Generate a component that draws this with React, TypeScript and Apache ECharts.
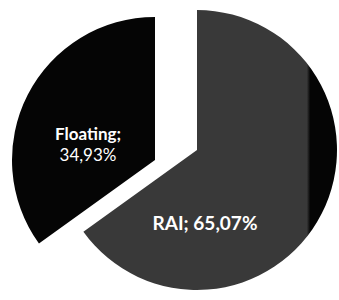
import React, { useEffect, useRef } from "react";
import * as echarts from "echarts";

const categories = ["RAI", "Floating"];
const shares = [65.07, 34.93];

const fmt = (v: number) => v.toFixed(2).replace(".", ",") + "%";

export default function App() {
  const ref = useRef<HTMLDivElement>(null);
  useEffect(() => {
    document.body.style.margin = "0";
    const chart = echarts.init(ref.current!, null, { renderer: "svg" });
    const raiFill = new echarts.graphic.LinearGradient(
      0, 0, 339, 0,
      [
        { offset: 0, color: "#393939" },
        { offset: 0.905, color: "#393939" },
        { offset: 0.915, color: "#050505" },
        { offset: 1, color: "#050505" },
      ],
      true
    );
    const makeData = (visible: number) =>
      categories.map((name, i) => {
        const shown = i === visible;
        return {
          name,
          value: shares[i],
          itemStyle: shown
            ? { color: i === 0 ? raiFill : "#050505" }
            : { color: "rgba(0,0,0,0)" },
          label: { show: shown },
        };
      });
    chart.setOption({
      animation: false,
      backgroundColor: "#ffffff",
      series: [
        {
          type: "pie",
          silent: true,
          center: [197, 150],
          radius: 140,
          startAngle: 90,
          clockwise: true,
          data: makeData(0),
          label: {
            position: "inside",
            color: "#ffffff",
            fontFamily: "Lato",
            fontWeight: "bold",
            fontSize: 19,
            formatter: (p: any) => p.name + "; " + fmt(p.value),
          },
          labelLayout: () => ({ x: 205, y: 222, align: "center", verticalAlign: "middle" }),
          labelLine: { show: false },
        },
        {
          type: "pie",
          silent: true,
          center: [155, 160],
          radius: 143,
          startAngle: 90,
          clockwise: true,
          data: makeData(1),
          label: {
            position: "inside",
            color: "#ffffff",
            fontFamily: "Lato",
            formatter: (p: any) => "{b|" + p.name + ";}\n{n|" + fmt(p.value) + "}",
            rich: {
              b: { fontFamily: "Lato", fontWeight: "bold", fontSize: 17, color: "#fff", lineHeight: 21, align: "center" },
              n: { fontFamily: "Lato", fontWeight: "normal", fontSize: 17, color: "#fff", lineHeight: 21, align: "center" },
            },
          },
          labelLayout: () => ({ x: 88, y: 144, align: "center", verticalAlign: "middle" }),
          labelLine: { show: false },
        },
      ],
    });
    return () => chart.dispose();
  }, []);
  return <div ref={ref} style={{ width: 339, height: 300 }} />;
}
